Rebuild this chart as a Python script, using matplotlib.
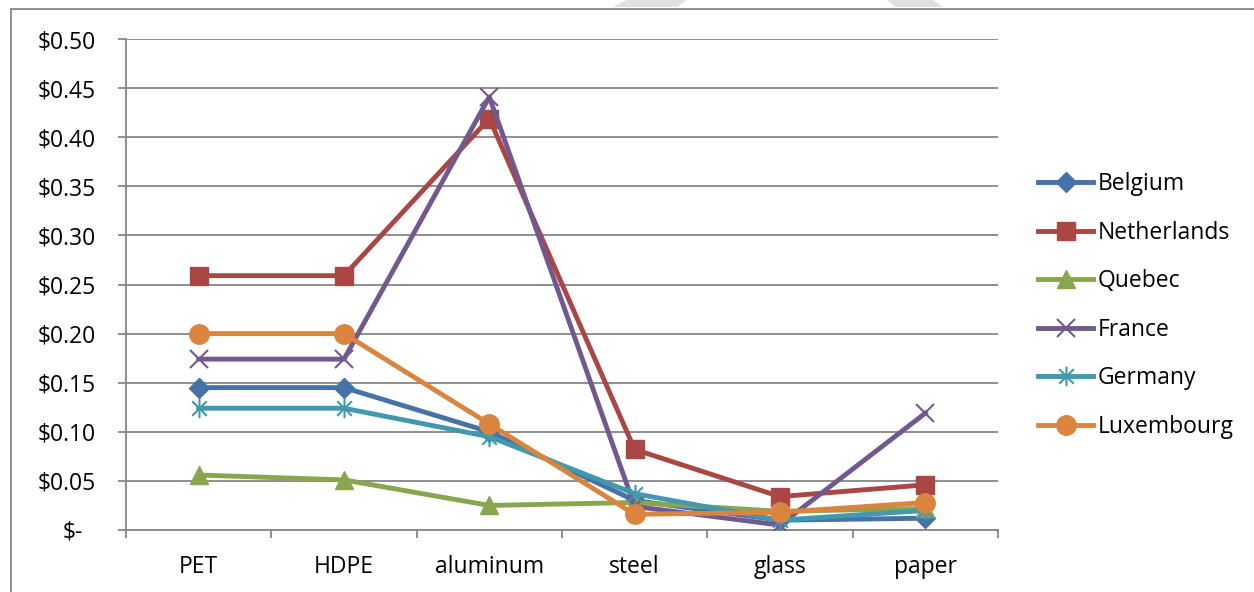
import numpy as np
import matplotlib.pyplot as plt
from matplotlib.path import Path
from matplotlib.patches import Polygon
from matplotlib.ticker import FuncFormatter, FixedLocator
import matplotlib.transforms as mtransforms

plt.rcParams['font.family'] = ['Open Sans', 'DejaVu Sans']

materials = ['PET', 'HDPE', 'aluminum', 'steel', 'glass', 'paper']

belgium = [0.145, 0.145, 0.100, 0.030, 0.010, 0.012]
netherlands = [0.259, 0.259, 0.419, 0.082, 0.034, 0.046]
quebec = [0.056, 0.051, 0.025, 0.028, 0.019, 0.022]
france = [0.174, 0.174, 0.441, 0.024, 0.005, 0.119]
germany = [0.124, 0.124, 0.095, 0.037, 0.010, 0.020]
luxembourg = [0.200, 0.200, 0.108, 0.016, 0.018, 0.028]

# excel style asterisk: vertical bar + x
star = Path([(0, -1), (0, 1), (-0.75, -0.75), (0.75, 0.75), (-0.75, 0.75), (0.75, -0.75)],
            [Path.MOVETO, Path.LINETO, Path.MOVETO, Path.LINETO, Path.MOVETO, Path.LINETO])

series = [
    ('Belgium', belgium, '#4572A7', 'D', 10, 1),
    ('Netherlands', netherlands, '#AA4643', 's', 13, 1),
    ('Quebec', quebec, '#89A54E', '^', 13, 1),
    ('France', france, '#71588F', 'x', 13, 1.5),
    ('Germany', germany, '#4198AF', star, 14, 1.5),
    ('Luxembourg', luxembourg, '#DB843D', 'o', 14, 1),
]

fs = 16.5
fig = plt.figure(figsize=(12.54, 5.92), dpi=100)
ax = fig.add_axes([126 / 1254, 1 - 530 / 592, (998 - 126) / 1254, (530 - 39) / 592])

x = np.arange(len(materials))
for name, vals, col, mk, ms, mew in series:
    ax.plot(x, vals, color=col, lw=3.5, marker=mk, markersize=ms,
            markerfacecolor=col, markeredgecolor=col, markeredgewidth=mew,
            label=name, solid_joinstyle='round', zorder=3)

gcol = '#868686'
ax.set_xlim(-0.5, 5.5)
ax.set_ylim(0, 0.5)
ax.set_yticks(np.arange(0, 0.51, 0.05))
ax.yaxis.set_major_formatter(FuncFormatter(lambda v, p: '$-' if abs(v) < 1e-9 else '${:.2f}'.format(v)))
ax.grid(axis='y', color=gcol, lw=1.3)
ax.set_axisbelow(True)
ax.set_xticks(x)
ax.set_xticklabels(materials)
ax.xaxis.set_minor_locator(FixedLocator(np.arange(-0.5, 6, 1)))
ax.tick_params(axis='x', which='major', length=0, pad=18, labelsize=fs)
ax.tick_params(axis='x', which='minor', length=6, color=gcol, width=1.3)
ax.tick_params(axis='y', length=6, color=gcol, width=1.3, pad=16, labelsize=fs)
for s in ['top', 'right']:
    ax.spines[s].set_visible(False)
for s in ['left', 'bottom']:
    ax.spines[s].set_color(gcol)
    ax.spines[s].set_linewidth(1.3)

# accounting format: zero label sits further left
lab0 = ax.get_yticklabels()[0]
lab0.set_transform(lab0.get_transform() + mtransforms.ScaledTranslation(-13 / 100, 0, fig.dpi_scale_trans))

leg = ax.legend(loc='center left', bbox_to_anchor=(1038 / 1254, 1 - 305.5 / 592),
                bbox_transform=fig.transFigure, frameon=False, fontsize=fs,
                handlelength=2.4, handletextpad=0.22, labelspacing=1.07,
                borderpad=0, borderaxespad=0)

# outer chart border (cropped at right/bottom)
fig.add_artist(plt.Line2D([11 / 1254, 11 / 1254], [0, 1 - 9 / 592], transform=fig.transFigure, color=gcol, lw=1.3))
fig.add_artist(plt.Line2D([11 / 1254, 1], [1 - 9 / 592, 1 - 9 / 592], transform=fig.transFigure, color=gcol, lw=1.3))

# faint watermark pieces at top edge
for pts in [[(613, 7), (677, 7), (687, 0), (627, 0)], [(895, 7), (943, 7), (933, 0), (887, 0)]]:
    fig.add_artist(Polygon([(px / 1254, 1 - py / 592) for px, py in pts], closed=True,
                           transform=fig.transFigure, facecolor='#e0e0e0', edgecolor='none'))

fig.savefig('out.png', dpi=100)
